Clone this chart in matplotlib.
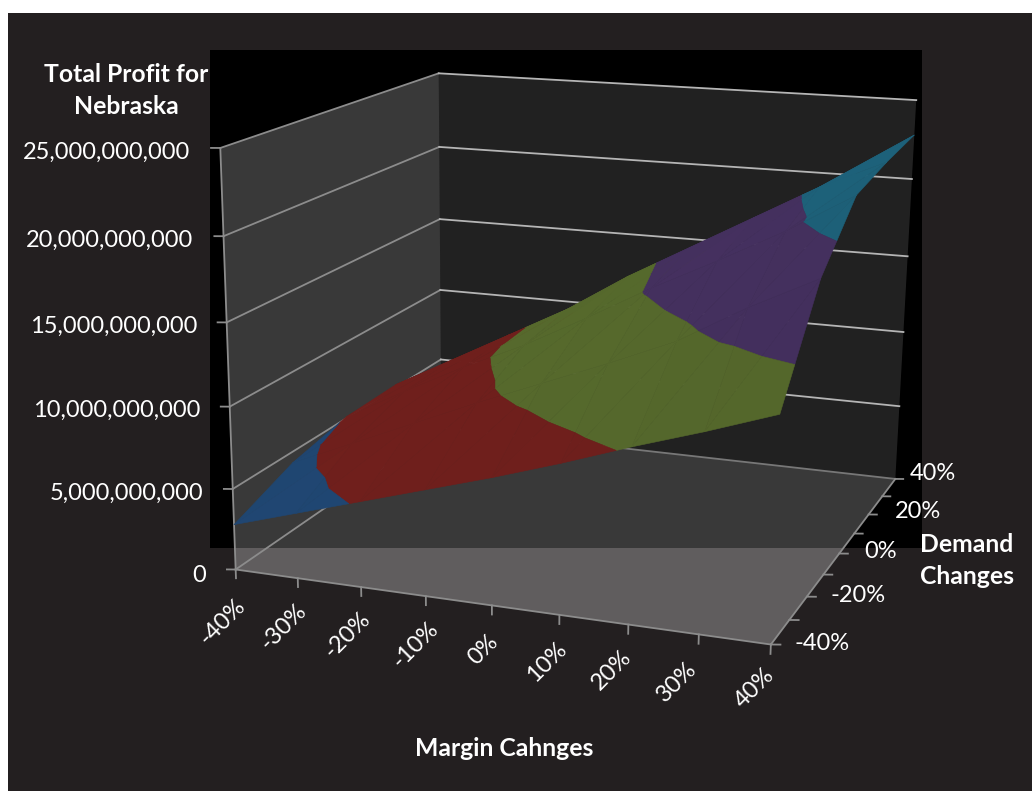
import numpy as np
import matplotlib
matplotlib.use('Agg')
import matplotlib.pyplot as plt
from matplotlib.patches import Rectangle
from matplotlib.transforms import Bbox, TransformedBbox
from mpl_toolkits.mplot3d.art3d import Poly3DCollection

W, H = 1032, 791

margin_changes = [-40, -30, -20, -10, 0, 10, 20, 30, 40]
demand_changes = [-40, -20, 0, 20, 40]
# total profit in billions, one row per demand change
profit_demand_m40 = [2.8, 4.0, 5.2, 6.4, 7.6, 8.9, 10.3, 11.6, 13.0]
profit_demand_m20 = [4.3, 6.0, 7.7, 9.4, 11.0, 12.6, 14.3, 16.6, 18.6]
profit_demand_0 = [5.1, 7.2, 9.2, 11.0, 13.1, 15.3, 17.3, 19.4, 21.8]
profit_demand_p20 = [5.2, 7.3, 9.4, 11.5, 14.0, 16.2, 18.4, 20.6, 22.4]
profit_demand_p40 = [4.6, 6.2, 8.2, 10.2, 12.4, 14.6, 17.0, 19.8, 22.8]

band_edges = [0, 5, 10, 15, 20, 25]
band_colors = ['#1f4570', '#6e1f1c', '#55682c', '#44305e', '#1d6078']

z_ticks = [0, 5, 10, 15, 20, 25]
z_labels = ['0', '5,000,000,000', '10,000,000,000', '15,000,000,000',
            '20,000,000,000', '25,000,000,000']
margin_labels = ['-40%', '-30%', '-20%', '-10%', '0%', '10%', '20%', '30%', '40%']
demand_labels = ['-40%', '-20%', '0%', '20%', '40%']

plt.rcParams['font.family'] = ['Lato', 'DejaVu Sans']


def px_text(x, y, s, **kw):
    fig.text(x / W, 1 - y / H, s, color='white', ha='center', va='center', **kw)


def clip_poly(poly, level, keep_above):
    out = []
    for i in range(len(poly)):
        p, q = poly[i], poly[(i + 1) % len(poly)]
        p_in = p[2] >= level if keep_above else p[2] <= level
        q_in = q[2] >= level if keep_above else q[2] <= level
        if p_in:
            out.append(p)
        if p_in != q_in:
            t = (level - p[2]) / (q[2] - p[2])
            out.append(p + t * (q - p))
    return out


fig = plt.figure(figsize=(W / 100, H / 100), dpi=100, facecolor='white')
fig.patches.append(Rectangle((8 / W, 0), 1, 1 - 13 / H, transform=fig.transFigure, zorder=-2,
                             facecolor='#231f20', edgecolor='none', figure=fig))
fig.patches.append(Rectangle((210 / W, 1 - 548 / H), 712 / W, 498 / H, transform=fig.transFigure, zorder=-1,
                             facecolor='black', edgecolor='none', figure=fig))

# big axes so nothing gets clipped; the box centre is on the camera axis
side = 1400
ax = fig.add_axes([(496 - 0.5135 * side) / W, (305 - 0.5135 * side) / H, side / W, side / H],
                  projection='3d')
ax.patch.set_visible(False)
ax.set_axis_off()
ax.computed_zorder = False
ax.set_proj_type('persp', focal_length=0.3103)
ax.view_init(elev=18.0, azim=-68.6)
ax.set_box_aspect((0.64, 0.62, 0.492), zoom=0.5747)
ax.set_autoscale_on(False)

x0, x1 = margin_changes[0], margin_changes[-1]
y0, y1 = demand_changes[0], demand_changes[-1]
top = z_ticks[-1]

# walls and floor
left_wall = [(x0, y0, 0), (x0, y1, 0), (x0, y1, top), (x0, y0, top)]
back_wall = [(x0, y1, 0), (x1, y1, 0), (x1, y1, top), (x0, y1, top)]
floor = [(x0, y0, 0), (x1, y0, 0), (x1, y1, 0), (x0, y1, 0)]
ax.add_collection3d(Poly3DCollection([back_wall], facecolor=(1, 1, 1, 0.135), edgecolor='none', zorder=1))
ax.add_collection3d(Poly3DCollection([left_wall], facecolor=(1, 1, 1, 0.227), edgecolor='none', zorder=1))
ax.add_collection3d(Poly3DCollection([floor], facecolor=(1, 1, 1, 0.227), edgecolor='none', zorder=1))
# the part over the lighter background reads a bit brighter
below_panel = TransformedBbox(Bbox([[0, 0], [1, 1 - 548 / H]]), fig.transFigure)
for face in (floor, left_wall):
    extra = Poly3DCollection([face], facecolor=(1, 1, 1, 0.07), edgecolor='none', zorder=1)
    ax.add_collection3d(extra)
    extra.set_clip_box(below_panel)

line = dict(color='#8c8c8c', lw=1.3, zorder=2)
for z in z_ticks:
    ax.plot([x0, x0], [y0, y1], [z, z], **line)
    ax.plot([x0, x1], [y1, y1], [z, z], color='#b5b5b5' if z else '#777777', lw=1.3, zorder=2)
    ax.plot([x0 - 1.2, x0], [y0 - 0.45, y0], [z, z], **line)
ax.plot([x0, x0], [y0, y0], [0, top], **line)
ax.plot([x0, x1], [y0, y0], [0, 0], **line)
ax.plot([x1, x1], [y0, y1], [0, 0], **line)
for m in margin_changes:
    ax.plot([m, m], [y0, y0], [0, -0.55], **line)
for d in np.arange(y0, y1 + 1, 10):
    ax.plot([x1, x1 + 1.2], [d, d + 0.45], [0, 0], **line)

# surface, cut along the band levels
profit = np.array([profit_demand_m40, profit_demand_m20, profit_demand_0,
                   profit_demand_p20, profit_demand_p40])
polys, colors = [], []
for j in range(len(demand_changes) - 1):
    for i in range(len(margin_changes) - 1):
        corners = [np.array([margin_changes[a], demand_changes[b], profit[b, a]], dtype=float)
                   for a, b in [(i, j), (i + 1, j), (i + 1, j + 1), (i, j + 1)]]
        for tri in ([corners[0], corners[1], corners[2]], [corners[0], corners[2], corners[3]]):
            normal = np.cross(tri[1] - tri[0], tri[2] - tri[0])
            shade = 1.0 + 0.9 * (normal[2] / np.linalg.norm(normal) - 0.97)
            for k in range(len(band_colors)):
                part = clip_poly(tri, band_edges[k], True)
                part = clip_poly(part, band_edges[k + 1], False) if part else part
                if len(part) >= 3:
                    polys.append(part)
                    rgb = np.array(matplotlib.colors.to_rgb(band_colors[k]))
                    colors.append(tuple(np.clip(rgb * shade, 0, 1)))
ax.add_collection3d(Poly3DCollection(polys, facecolors=colors, edgecolors=colors,
                                     linewidths=0.4, zorder=3))

ax.set_xlim(-52.9, 27.1)
ax.set_ylim(-44.4, 35.6)
ax.set_zlim(-10.25, 14.75)

# labels
fs = 17
z_x = [206, 203, 200, 197, 193, 190]
z_y = [575, 493, 410, 326, 240, 152]
for x, y, s in zip(z_x, z_y, z_labels):
    fig.text(x / W, 1 - y / H, s, color='white', ha='right', va='center', fontsize=fs)
m_x = [222, 283, 347, 415, 483, 547, 612, 677, 755]
m_y = [622, 627, 635, 645, 650, 662, 670, 682, 688]
for x, y, s in zip(m_x, m_y, margin_labels):
    px_text(x, y, s, fontsize=fs, rotation=45, rotation_mode='anchor')
d_x = [822, 858, 881, 918, 933]
d_y = [644, 596, 551, 511, 474]
for x, y, s in zip(d_x, d_y, demand_labels):
    px_text(x, y, s, fontsize=fs)
px_text(126, 75, 'Total Profit for', fontsize=17.8, fontweight='bold')
px_text(126, 107, 'Nebraska', fontsize=17.8, fontweight='bold')
px_text(967, 544, 'Demand', fontsize=17.8, fontweight='bold')
px_text(967, 576, 'Changes', fontsize=17.8, fontweight='bold')
px_text(504, 748, 'Margin Cahnges', fontsize=17.8, fontweight='bold')

fig.savefig('out.png', dpi=100, facecolor=fig.get_facecolor())
